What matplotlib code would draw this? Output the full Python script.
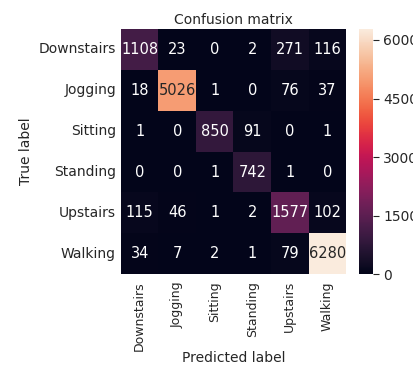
import numpy as np
import matplotlib
matplotlib.use("Agg")
import matplotlib.pyplot as plt
import seaborn as sns

labels = ["Downstairs", "Jogging", "Sitting", "Standing", "Upstairs", "Walking"]

row_downstairs = [1108, 23, 0, 2, 271, 116]
row_jogging = [18, 5026, 1, 0, 76, 37]
row_sitting = [1, 0, 850, 91, 0, 1]
row_standing = [0, 0, 1, 742, 1, 0]
row_upstairs = [115, 46, 1, 2, 1577, 102]
row_walking = [34, 7, 2, 1, 79, 6280]

cbar_ticks = [0, 1500, 3000, 4500, 6000]


def main():
    matrix = np.array([row_downstairs, row_jogging, row_sitting,
                       row_standing, row_upstairs, row_walking])

    fig = plt.figure(figsize=(4.14, 3.68), dpi=100)
    ax = fig.add_axes([0.292, 0.255, 0.544, 0.666])
    cax = fig.add_axes([0.867, 0.255, 0.034, 0.666])

    sns.heatmap(matrix, annot=True, fmt="d", cmap="rocket", ax=ax, cbar_ax=cax,
                xticklabels=labels, yticklabels=labels,
                annot_kws={"fontsize": 10.5})
    ax.set_title("Confusion matrix", fontsize=10, color="#262626", pad=4)
    ax.set_xlabel("Predicted label", fontsize=10, color="#262626", labelpad=0)
    ax.set_ylabel("True label", fontsize=10, color="#262626")
    ax.tick_params(axis="both", length=0, labelsize=10, colors="#262626")
    ax.tick_params(axis="x", pad=5, labelsize=9)
    plt.setp(ax.get_xticklabels(), rotation=90)
    plt.setp(ax.get_yticklabels(), rotation=0)

    cax.set_yticks(cbar_ticks)
    cax.tick_params(labelsize=10, length=4, colors="#262626")
    for s in cax.spines.values():
        s.set_visible(False)

    fig.savefig("out.png", dpi=100)


if __name__ == "__main__":
    main()
